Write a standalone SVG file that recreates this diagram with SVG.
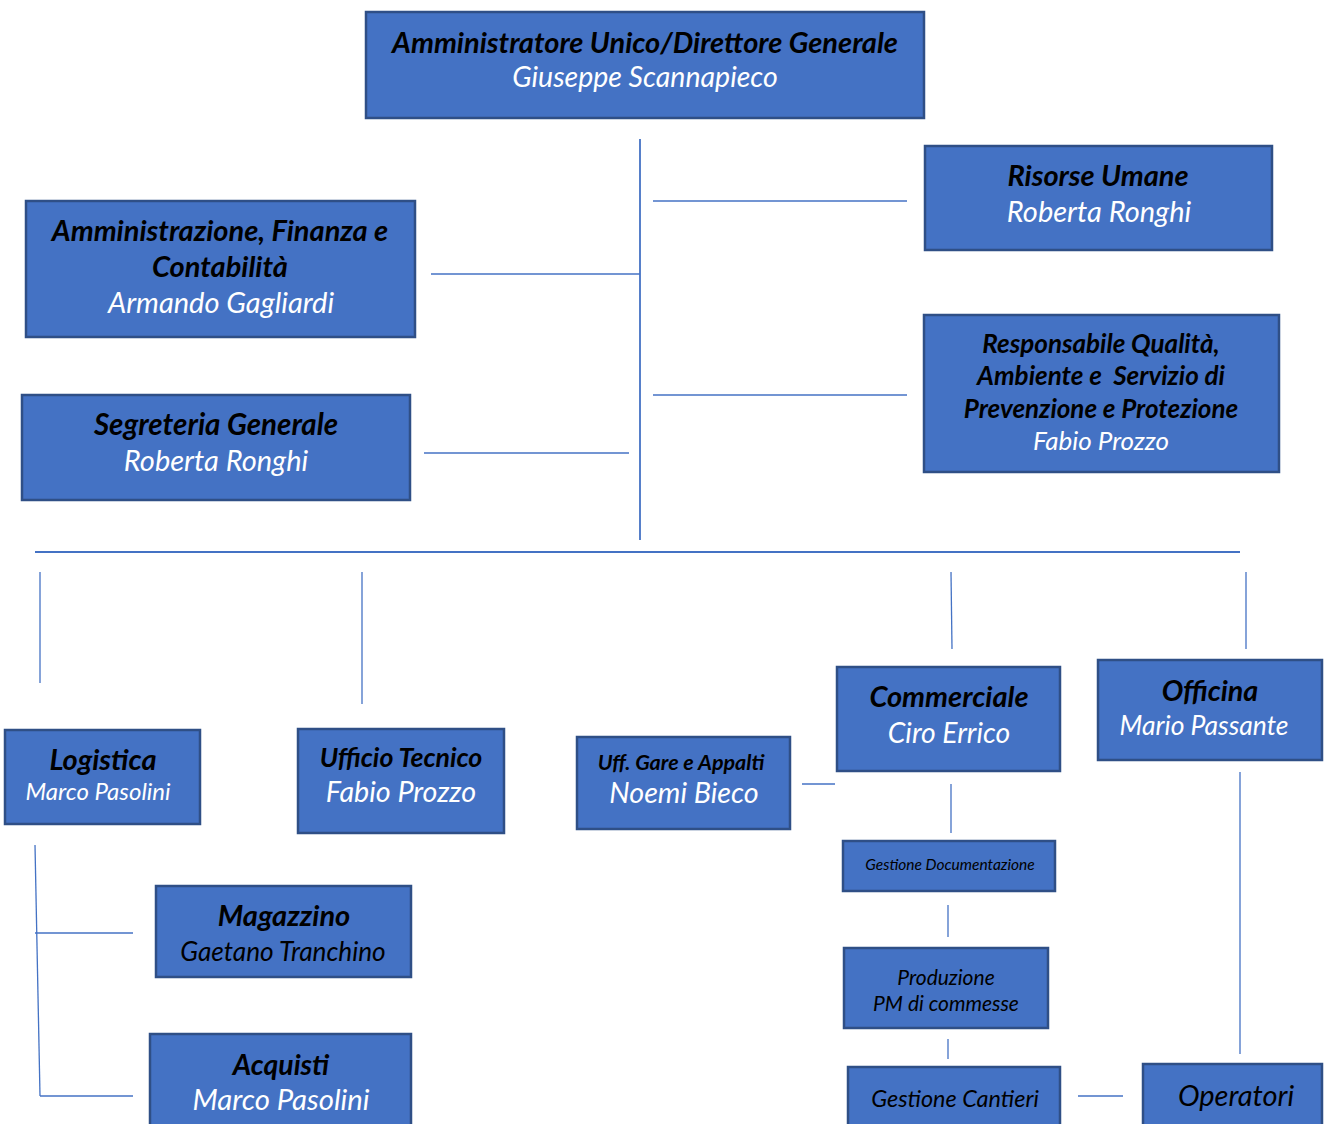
<svg xmlns="http://www.w3.org/2000/svg" width="1327" height="1124" viewBox="0 0 1327 1124">
<style>
.box{fill:#4472C4;stroke:#2F4F86;stroke-width:2.5}
.t{font-family:Lato,"Open Sans","Liberation Sans",sans-serif;font-style:italic;font-weight:bold;fill:#000;text-anchor:middle}
.n{font-family:Lato,"Open Sans","Liberation Sans",sans-serif;font-style:italic;fill:#fff;text-anchor:middle}
.k{font-family:Lato,"Open Sans","Liberation Sans",sans-serif;font-style:italic;fill:#000;text-anchor:middle}
.c{stroke:#4472C4;stroke-width:1.3;fill:none}
.c2{stroke:#4472C4;stroke-width:1.8;fill:none}
</style>
<rect width="1327" height="1124" fill="#fff"/>
<g id="connectors">
<line class="c2" x1="640" y1="139" x2="640" y2="540"/>
<line class="c" x1="653" y1="201" x2="907" y2="201"/>
<line class="c" x1="653" y1="395" x2="907" y2="395"/>
<line class="c" x1="431" y1="274" x2="640" y2="274"/>
<line class="c" x1="424" y1="453" x2="629" y2="453"/>
<line class="c2" x1="35" y1="552" x2="1240" y2="552"/>
<line class="c" x1="40" y1="572" x2="40" y2="683"/>
<line class="c" x1="362" y1="572" x2="362" y2="704"/>
<line class="c" x1="951" y1="572" x2="952" y2="649"/>
<line class="c" x1="1246" y1="572" x2="1246" y2="649"/>
<line class="c" x1="802" y1="784" x2="835" y2="784"/>
<line class="c" x1="951" y1="784" x2="951" y2="833"/>
<line class="c" x1="948" y1="905" x2="948" y2="937"/>
<line class="c" x1="948" y1="1039" x2="948" y2="1059"/>
<line class="c" x1="1078" y1="1096" x2="1123" y2="1096"/>
<line class="c" x1="1240" y1="772" x2="1240" y2="1054"/>
<line class="c" x1="35" y1="845" x2="40" y2="1096"/>
<line class="c" x1="35" y1="933" x2="133" y2="933"/>
<line class="c" x1="40" y1="1096" x2="133" y2="1096"/>
</g>
<g id="n-ad"><rect class="box" x="366" y="12" width="558" height="106"/>
<text class="t" x="645" y="53" font-size="29">Amministratore Unico/Direttore Generale</text>
<text class="n" x="645" y="87" font-size="28.5">Giuseppe Scannapieco</text></g>
<g id="n-rh"><rect class="box" x="925" y="146" width="347" height="104"/>
<text class="t" x="1098" y="186" font-size="29">Risorse Umane</text>
<text class="n" x="1099" y="222" font-size="29">Roberta Ronghi</text></g>
<g id="n-afc"><rect class="box" x="26" y="201" width="389" height="136"/>
<text class="t" x="220" y="241" font-size="29">Amministrazione, Finanza e</text>
<text class="t" x="220" y="277" font-size="29">Contabilità</text>
<text class="n" x="221" y="313" font-size="29">Armando Gagliardi</text></g>
<g id="n-rq"><rect class="box" x="924" y="315" width="355" height="157"/>
<text class="t" x="1101" y="353" font-size="26">Responsabile Qualità,</text>
<text class="t" x="1101" y="385" font-size="26" xml:space="preserve">Ambiente e  Servizio di</text>
<text class="t" x="1101" y="418" font-size="26">Prevenzione e Protezione</text>
<text class="n" x="1101" y="450" font-size="26">Fabio Prozzo</text></g>
<g id="n-sg"><rect class="box" x="22" y="395" width="388" height="105"/>
<text class="t" x="216" y="435" font-size="29.5">Segreteria Generale</text>
<text class="n" x="216" y="471" font-size="29">Roberta Ronghi</text></g>
<g id="n-log"><rect class="box" x="5" y="730" width="195" height="94"/>
<text class="t" x="103" y="770" font-size="29">Logistica</text>
<text class="n" x="98" y="800" font-size="24">Marco Pasolini</text></g>
<g id="n-ut"><rect class="box" x="298" y="729" width="206" height="104"/>
<text class="t" x="401" y="767" font-size="26.7">Ufficio Tecnico</text>
<text class="n" x="401" y="802" font-size="28.7">Fabio Prozzo</text></g>
<g id="n-uga"><rect class="box" x="577" y="737" width="213" height="92"/>
<text class="t" x="681" y="770" font-size="21.5">Uff. Gare e Appalti</text>
<text class="n" x="684" y="803" font-size="28.7">Noemi Bieco</text></g>
<g id="n-com"><rect class="box" x="837" y="667" width="223" height="104"/>
<text class="t" x="949" y="707" font-size="29">Commerciale</text>
<text class="n" x="949" y="743" font-size="28.3">Ciro Errico</text></g>
<g id="n-off"><rect class="box" x="1098" y="660" width="224" height="100"/>
<text class="t" x="1210" y="701" font-size="28.7">Officina</text>
<text class="n" x="1204" y="735" font-size="26.5">Mario Passante</text></g>
<g id="n-gd"><rect class="box" x="843" y="841" width="212" height="50"/>
<text class="k" x="950" y="870" font-size="15.5">Gestione Documentazione</text></g>
<g id="n-prod"><rect class="box" x="844" y="948" width="204" height="80"/>
<text class="k" x="946" y="985" font-size="21">Produzione</text>
<text class="k" x="946" y="1011" font-size="21">PM di commesse</text></g>
<g id="n-gc"><rect class="box" x="848" y="1067" width="212" height="62"/>
<text class="k" x="955" y="1107" font-size="23.4">Gestione Cantieri</text></g>
<g id="n-op"><rect class="box" x="1143" y="1064" width="179" height="65"/>
<text class="k" x="1236" y="1106" font-size="29">Operatori</text></g>
<g id="n-mag"><rect class="box" x="156" y="886" width="255" height="91"/>
<text class="t" x="284" y="926" font-size="29">Magazzino</text>
<text class="k" x="283" y="961" font-size="26.2">Gaetano Tranchino</text></g>
<g id="n-acq"><rect class="box" x="150" y="1034" width="261" height="95"/>
<text class="t" x="281" y="1075" font-size="28.4">Acquisti</text>
<text class="n" x="281" y="1110" font-size="29.3">Marco Pasolini</text></g>
</svg>
